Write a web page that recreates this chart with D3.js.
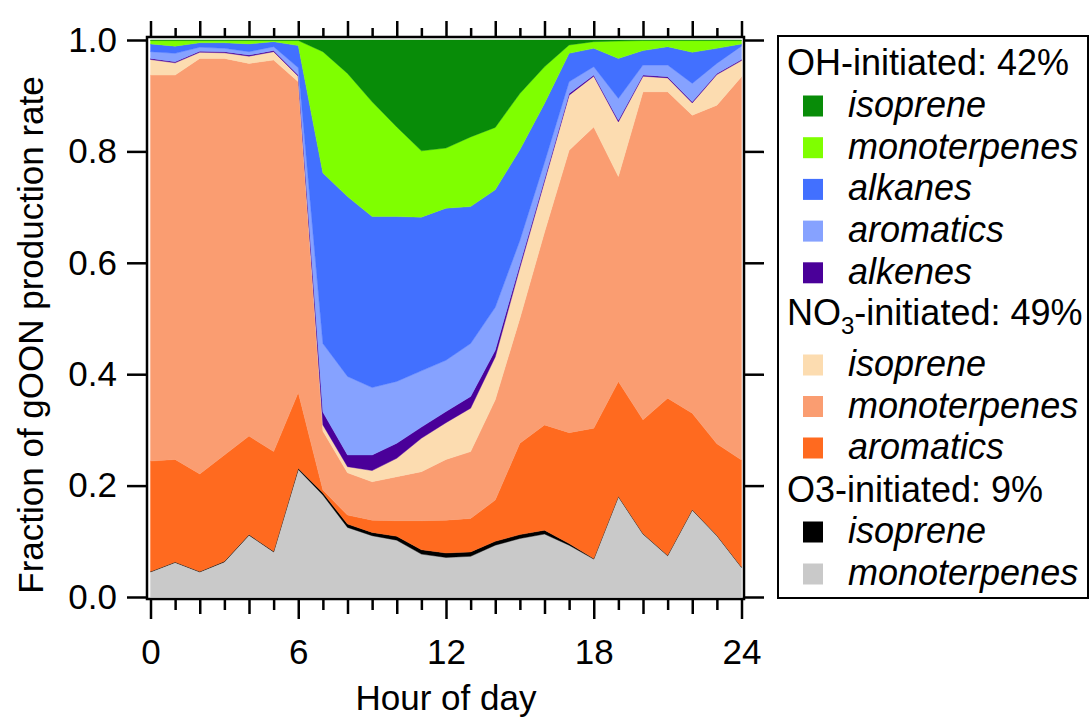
<!DOCTYPE html>
<html><head><meta charset="utf-8">
<script src="https://cdn.jsdelivr.net/npm/d3@7"></script>
<style>
body{margin:0;background:#fff}
text{font-family:"Liberation Sans",Arial,Helvetica,sans-serif;fill:#000}
</style>
</head><body>
<svg id="chart" width="1091" height="717"></svg>
<script>
// ---- data (fractions of gOON production rate, stacked bottom -> top) ----
const hours = [0,1,2,3,4,5,6,7,8,9,10,11,12,13,14,15,16,17,18,19,20,21,22,23,24];

const o3Monoterpenes  = [0.045,0.062,0.045,0.063,0.111,0.081,0.229,0.183,0.125,0.110,0.102,0.077,0.071,0.073,0.093,0.105,0.113,0.093,0.068,0.180,0.113,0.074,0.156,0.110,0.053];
const o3Isoprene      = [0.001,0.001,0.001,0.001,0.001,0.001,0.002,0.004,0.006,0.006,0.007,0.008,0.008,0.008,0.007,0.007,0.007,0.003,0.001,0.001,0.001,0.001,0.001,0.001,0.001];
const no3Aromatics    = [0.198,0.184,0.175,0.191,0.177,0.179,0.136,0.005,0.016,0.022,0.028,0.052,0.059,0.060,0.074,0.164,0.189,0.199,0.234,0.206,0.204,0.282,0.173,0.164,0.192];
const no3Monoterpenes = [0.693,0.690,0.746,0.712,0.669,0.703,0.558,0.106,0.076,0.069,0.079,0.088,0.109,0.120,0.180,0.224,0.346,0.507,0.541,0.368,0.589,0.550,0.535,0.608,0.688];
const no3Isoprene     = [0.028,0.022,0.011,0.010,0.013,0.015,0.010,0.011,0.011,0.020,0.033,0.060,0.066,0.078,0.077,0.091,0.091,0.099,0.091,0.098,0.028,0.025,0.022,0.055,0.029];
const ohAlkenes       = [0.002,0.002,0.002,0.002,0.002,0.002,0.002,0.023,0.021,0.028,0.027,0.020,0.020,0.021,0.012,0.006,0.004,0.003,0.002,0.003,0.002,0.002,0.002,0.002,0.002];
const ohAromatics     = [0.012,0.015,0.007,0.006,0.006,0.007,0.013,0.123,0.141,0.121,0.111,0.101,0.092,0.095,0.077,0.043,0.030,0.021,0.015,0.039,0.018,0.021,0.033,0.018,0.024];
const ohAlkanes       = [0.014,0.013,0.008,0.010,0.014,0.009,0.040,0.306,0.323,0.307,0.296,0.276,0.273,0.246,0.211,0.163,0.106,0.051,0.033,0.072,0.026,0.033,0.056,0.027,0.004];
const ohMonoterpenes  = [0.006,0.010,0.004,0.004,0.006,0.002,0.009,0.218,0.221,0.206,0.161,0.119,0.108,0.125,0.112,0.101,0.066,0.015,0.012,0.031,0.018,0.011,0.021,0.014,0.006];
const ohIsoprene      = [0.001,0.001,0.001,0.001,0.001,0.001,0.001,0.021,0.060,0.111,0.156,0.199,0.194,0.174,0.157,0.096,0.048,0.009,0.003,0.002,0.001,0.001,0.001,0.001,0.001];

const yTickValues = [0.0,0.2,0.4,0.6,0.8,1.0];
const xLabelValues = [0,6,12,18,24];

const groupTitles = ["OH-initiated: 42%", "NO3-initiated: 49%", "O3-initiated: 9%"];
const itemNames = {
  ohIsoprene:"isoprene", ohMonoterpenes:"monoterpenes", ohAlkanes:"alkanes", ohAromatics:"aromatics", ohAlkenes:"alkenes",
  no3Isoprene:"isoprene", no3Monoterpenes:"monoterpenes", no3Aromatics:"aromatics",
  o3Isoprene:"isoprene", o3Monoterpenes:"monoterpenes"
};

// ---- styling ----
const colors = {
  o3Monoterpenes:"#c9c9c9", o3Isoprene:"#000000",
  no3Aromatics:"#ff6a1f", no3Monoterpenes:"#fa9d71", no3Isoprene:"#fcdcb0",
  ohAlkenes:"#4a0099", ohAromatics:"#86a2ff", ohAlkanes:"#4270ff",
  ohMonoterpenes:"#7fff00", ohIsoprene:"#088c08"
};

const seriesArrays = {o3Monoterpenes,o3Isoprene,no3Aromatics,no3Monoterpenes,no3Isoprene,ohAlkenes,ohAromatics,ohAlkanes,ohMonoterpenes,ohIsoprene};
const stackKeys = ["o3Monoterpenes","o3Isoprene","no3Aromatics","no3Monoterpenes","no3Isoprene","ohAlkenes","ohAromatics","ohAlkanes","ohMonoterpenes","ohIsoprene"];

const rows = hours.map((h,i) => {
  const r = {hour:h};
  stackKeys.forEach(k => r[k] = seriesArrays[k][i]);
  return r;
});

const svg = d3.select("#chart");
const x = d3.scaleLinear().domain([0,24]).range([150.5,741.5]);
const y = d3.scaleLinear().domain([0,1]).range([597,40]);

const stacked = d3.stack().keys(stackKeys)(rows);
const area = d3.area()
  .x(d => x(d.data.hour))
  .y0(d => y(d[0]))
  .y1(d => y(d[1]))
  .curve(d3.curveLinear);

svg.append("g").selectAll("path").data(stacked).join("path")
  .attr("d", area)
  .attr("fill", d => colors[d.key])
  .attr("stroke", d => colors[d.key])
  .attr("stroke-width", 0.4);

// frame
const frame = {l:147, t:37, r:744, b:599};
svg.append("rect").attr("x",frame.l).attr("y",frame.t)
  .attr("width",frame.r-frame.l).attr("height",frame.b-frame.t)
  .attr("fill","none").attr("stroke","#000").attr("stroke-width",2.5);

function styleAxis(g){
  g.select(".domain").remove();
  g.selectAll(".tick line").attr("stroke","#000").attr("stroke-width",2.5);
  g.selectAll(".tick text").attr("font-size",35).attr("fill","#000")
    .attr("font-family",'"Liberation Sans",Arial,sans-serif');
}

// left axis
svg.append("g").attr("transform",`translate(${frame.l},0)`)
  .call(d3.axisLeft(y).tickValues(yTickValues).tickSize(20).tickPadding(10).tickFormat(d3.format(".1f")))
  .call(styleAxis);

// right axis
svg.append("g").attr("transform",`translate(${frame.r},0)`)
  .call(d3.axisRight(y).tickValues(yTickValues).tickSize(20).tickFormat(""))
  .call(styleAxis);

// bottom axis
const gb = svg.append("g").attr("transform",`translate(0,${frame.b})`)
  .call(d3.axisBottom(x).tickValues(hours).tickSize(20)
    .tickFormat(d => xLabelValues.includes(d) ? d3.format("d")(d) : ""))
  .call(styleAxis);
gb.selectAll(".tick line").attr("y2", d => d % 6 === 0 ? 20 : (d % 2 === 0 ? 15 : 11));
gb.selectAll(".tick text").attr("y", 40);

// top axis
const gt = svg.append("g").attr("transform",`translate(0,${frame.t})`)
  .call(d3.axisTop(x).tickValues(hours).tickSize(16).tickFormat(""))
  .call(styleAxis);
gt.selectAll(".tick line").attr("y2", d => d % 2 === 0 ? -16 : -9);

// axis titles
svg.append("text").attr("x",446).attr("y",710).attr("text-anchor","middle")
  .attr("font-size",35).text("Hour of day");
svg.append("text").attr("transform","translate(43,335) rotate(-90)")
  .attr("text-anchor","middle").attr("font-size",35).text("Fraction of gOON production rate");

// legend
const lg = svg.append("g");
lg.append("rect").attr("x",778).attr("y",36).attr("width",310).attr("height",562)
  .attr("fill","#fff").attr("stroke","#000").attr("stroke-width",2);

const legendLayout = [
  {type:"header", text:groupTitles[0], y:75},
  {type:"item", key:"ohIsoprene", cy:106},
  {type:"item", key:"ohMonoterpenes", cy:147.7},
  {type:"item", key:"ohAlkanes", cy:189.4},
  {type:"item", key:"ohAromatics", cy:231.1},
  {type:"item", key:"ohAlkenes", cy:272.8},
  {type:"header", text:groupTitles[1], y:325, sub:true},
  {type:"item", key:"no3Isoprene", cy:365},
  {type:"item", key:"no3Monoterpenes", cy:406.5},
  {type:"item", key:"no3Aromatics", cy:448},
  {type:"header", text:groupTitles[2], y:502},
  {type:"item", key:"o3Isoprene", cy:532},
  {type:"item", key:"o3Monoterpenes", cy:574}
];

legendLayout.forEach(e => {
  if (e.type === "header") {
    const t = lg.append("text").attr("x",787).attr("y",e.y).attr("font-size",36);
    if (e.sub) {
      const m = e.text.match(/^(NO)(3)(.*)$/);
      t.append("tspan").text(m[1]);
      t.append("tspan").attr("font-size",24).attr("dy",9).text(m[2]);
      t.append("tspan").attr("dy",-9).text(m[3]);
    } else {
      t.text(e.text);
    }
  } else {
    lg.append("rect").attr("x",803).attr("y",e.cy-10.5).attr("width",20).attr("height",21)
      .attr("fill",colors[e.key]);
    lg.append("text").attr("x",848).attr("y",e.cy+11).attr("font-size",36)
      .attr("font-style","italic").text(itemNames[e.key]);
  }
});
</script>
</body></html>
